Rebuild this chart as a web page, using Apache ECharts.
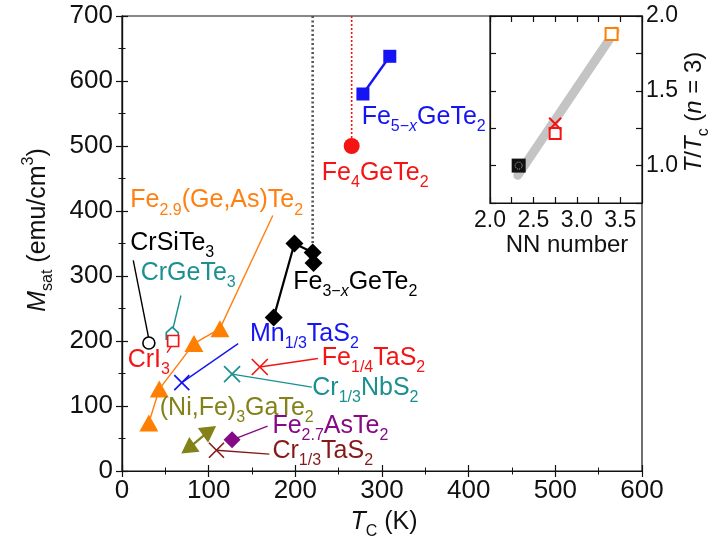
<!DOCTYPE html>
<html><head><meta charset="utf-8">
<script src="https://cdn.jsdelivr.net/npm/echarts@6/dist/echarts.min.js"></script>
<style>html,body{margin:0;padding:0;background:#fff}#c{width:710px;height:545px}</style>
</head><body><div id="c"></div>
<script>
// Curie temperature T_C (K) vs saturation magnetisation M_sat (emu/cm^3)
const fe5GeTe2 = [[278, 580], [309, 638]];
const fe4GeTe2 = [[265, 500]];
const fe3GeTe2 = [[175, 236], [199, 350], [220, 336], [221, 320]];
const fe29GeAsTe2 = [[31, 74], [43, 126], [83, 196], [113, 219]];
const crSiTe3 = [[31, 197]];
const crGeTe3 = [[58, 212]];
const crI3 = [[59, 200]];
const mnTaS2 = [[69, 136]];
const fe14TaS2 = [[159, 160]];
const crNbS2 = [[127, 149]];
const niFeGaTe2 = [[76, 34], [101, 62]];
const fe27AsTe2 = [[127, 48]];
const crTaS2 = [[109, 32]];

// vertical guides at the T_C of Fe3-xGeTe2 and Fe4GeTe2
const fe3Guide = [[220, 700], [220, 336]];
const fe4Guide = [[265, 700], [265, 500]];

// inset: nearest-neighbour number vs T/T_c (n = 3)
const nnBlack = [[2.33, 1.0]];
const nnRedSquare = [[2.75, 1.215]];
const nnRedCross = [[2.75, 1.28]];
const nnOrange = [[3.40, 1.88]];
const nnTrend = [[2.32, 0.935], [3.44, 1.9]];

// compound names (rich text) with label anchor and leader tip, in data units
const names = [
  {text: 'Fe{s|5−}{si|x}GeTe{s|2}', color: '#1414f5', at: [276, 544]},
  {text: 'Fe{s|4}GeTe{s|2}', color: '#f51414', at: [230, 458]},
  {text: 'Fe{s|3−}{si|x}GeTe{s|2}', color: '#000', at: [197, 290]},
  {text: 'Fe{s|2.9}(Ge,As)Te{s|2}', color: '#ff8010', at: [9, 416], lead: [[113, 219], [174, 393]]},
  {text: 'CrSiTe{s|3}', color: '#000', at: [9, 351], lead: [[13, 324], [31, 203]]},
  {text: 'CrGeTe{s|3}', color: '#1a9090', at: [21, 304], lead: [[68, 270], [59, 220]]},
  {text: 'CrI{s|3}', color: '#f51414', at: [6, 170], lead: [[52, 182], [57, 192]]},
  {text: 'Mn{s|1/3}TaS{s|2}', color: '#1414f5', at: [147, 211], lead: [[134, 196], [69, 136]]},
  {text: 'Fe{s|1/4}TaS{s|2}', color: '#f51414', at: [230, 173], lead: [[226, 173], [159, 160]]},
  {text: 'Cr{s|1/3}NbS{s|2}', color: '#1a9090', at: [219, 128], lead: [[219, 129], [127, 149]]},
  {text: '(Ni,Fe){s|3}GaTe{s|2}', color: '#828219', at: [43, 97]},
  {text: 'Fe{s|2.7}AsTe{s|2}', color: '#850a85', at: [173, 69], lead: [[168, 69], [127, 48]]},
  {text: 'Cr{s|1/3}TaS{s|2}', color: '#851818', at: [173, 31], lead: [[170, 26], [109, 32]]}
];

const FONT = '"Liberation Sans", Arial, Helvetica, sans-serif';
const rich = {
  s: {fontSize: 16, fontFamily: FONT, padding: [19, 0, 0, 0]},
  si: {fontSize: 16, fontFamily: FONT, fontStyle: 'italic', padding: [19, 0, 0, 0]},
  p: {fontSize: 16, fontFamily: FONT, padding: [0, 0, 19, 0]},
  i: {fontSize: 25, fontFamily: FONT, fontStyle: 'italic'},
  ii: {fontSize: 24, fontFamily: FONT, fontStyle: 'italic'}
};

const CROSS = 'path://M0,0L10,10M10,0L0,10';
const HOUSE = 'path://M5,0L10,4.5L10,10L0,10L0,4.5Z';

const chart = echarts.init(document.getElementById('c'), null, {renderer: 'canvas'});

const axisLine = {lineStyle: {color: '#111', width: 1.2}};
const tickIn = {inside: true, length: 6, lineStyle: {color: '#111', width: 1.2}};
const minorIn = {show: true, splitNumber: 2, length: 3.5, lineStyle: {color: '#111', width: 1}};
const mainLabel = {fontSize: 26, color: '#111', fontFamily: FONT};

function pts(arr) { return arr.map(v => v.slice()); }

function openMarker(name, data, symbol, size, color, bw) {
  return {
    type: 'scatter', name, data: pts(data), symbol, symbolSize: size,
    itemStyle: {color: '#fff', borderColor: color, borderWidth: bw, opacity: 1},
    z: 4
  };
}
function crossMarker(name, data, size, color, bw, xi, yi, z) {
  return {
    type: 'scatter', name, data: pts(data), symbol: CROSS, symbolSize: size,
    xAxisIndex: xi || 0, yAxisIndex: yi || 0,
    itemStyle: {color: 'rgba(0,0,0,0)', borderColor: color, borderWidth: bw, opacity: 1},
    z: z || 4
  };
}

const leaders = names.filter(n => n.lead).map(n => ({
  coords: n.lead, lineStyle: {color: n.color, width: 1.4, opacity: 1}
}));

const niFeRot = [125, -55];
const halfStep = v => (Math.abs(v * 2 - Math.round(v * 2)) < 1e-6 ? v.toFixed(1) : '');

const option = {
  animation: false,
  textStyle: {fontFamily: FONT},
  grid: [
    {left: 122, top: 16, width: 520, height: 455, show: true, borderColor: '#111', borderWidth: 1.2, backgroundColor: '#fff'},
    {left: 490, top: 16, width: 152, height: 187, show: true, borderColor: '#111', borderWidth: 1.2, backgroundColor: '#fff', z: 6}
  ],
  xAxis: [
    {gridIndex: 0, type: 'value', min: 0, max: 600, interval: 100, axisLine, axisTick: tickIn, minorTick: minorIn,
     splitLine: {show: false}, axisLabel: Object.assign({margin: 7}, mainLabel)},
    {gridIndex: 0, type: 'value', position: 'top', min: 0, max: 600, interval: 100, axisLine, axisTick: tickIn, minorTick: minorIn,
     splitLine: {show: false}, axisLabel: {show: false}},
    {gridIndex: 1, type: 'value', min: 2.0, max: 3.75, interval: 0.25, axisLine, axisTick: tickIn, z: 7,
     splitLine: {show: false},
     axisLabel: {fontSize: 23, color: '#111', margin: 6, fontFamily: FONT, showMaxLabel: false, formatter: halfStep}},
    {gridIndex: 1, type: 'value', position: 'top', min: 2.0, max: 3.75, interval: 0.25, axisLine, axisTick: tickIn, z: 7,
     splitLine: {show: false}, axisLabel: {show: false}}
  ],
  yAxis: [
    {gridIndex: 0, type: 'value', min: 0, max: 700, interval: 100, axisLine, axisTick: tickIn, minorTick: minorIn,
     splitLine: {show: false}, axisLabel: Object.assign({margin: 9}, mainLabel)},
    {gridIndex: 0, type: 'value', position: 'right', min: 0, max: 700, interval: 100, axisLine, axisTick: tickIn, minorTick: minorIn,
     splitLine: {show: false}, axisLabel: {show: false}},
    {gridIndex: 1, type: 'value', position: 'right', min: 0.75, max: 2.0, interval: 0.25, axisLine, axisTick: tickIn, z: 7,
     splitLine: {show: false},
     axisLabel: {fontSize: 23, color: '#111', margin: 4, fontFamily: FONT, formatter: halfStep}},
    {gridIndex: 1, type: 'value', position: 'left', min: 0.75, max: 2.0, interval: 0.25, axisLine, axisTick: tickIn, z: 7,
     splitLine: {show: false}, axisLabel: {show: false}}
  ],
  series: [
    // guides
    {type: 'line', data: pts(fe3Guide), symbol: 'none', lineStyle: {color: '#555', width: 2.6, type: [2, 2.5]}, z: 1},
    {type: 'line', data: pts(fe4Guide), symbol: 'none', lineStyle: {color: '#f51414', width: 1.6, type: [2, 2]}, z: 1},
    // leader lines to compound names
    {type: 'lines', coordinateSystem: 'cartesian2d', xAxisIndex: 0, yAxisIndex: 0, data: leaders, z: 2, silent: true,
     lineStyle: {opacity: 1}},
    // Fe-Ge-Te family
    {type: 'line', name: 'Fe5-xGeTe2', data: pts(fe5GeTe2), symbol: 'rect', symbolSize: 13,
     itemStyle: {color: '#1414f5'}, lineStyle: {color: '#1414f5', width: 2.4}, z: 4},
    {type: 'scatter', name: 'Fe4GeTe2', data: pts(fe4GeTe2), symbol: 'circle', symbolSize: 16,
     itemStyle: {color: '#f51414', opacity: 1}, z: 4},
    {type: 'line', name: 'Fe3-xGeTe2', data: pts(fe3GeTe2), symbol: 'diamond', symbolSize: [18, 18],
     itemStyle: {color: '#000'}, lineStyle: {color: '#000', width: 2.2}, z: 4},
    {type: 'line', name: 'Fe2.9(Ge,As)Te2', data: pts(fe29GeAsTe2), symbol: 'triangle', symbolSize: [19, 17],
     itemStyle: {color: '#ff8000'}, lineStyle: {color: '#ff8010', width: 1.5}, z: 4},
    // Cr and intercalated compounds
    openMarker('CrSiTe3', crSiTe3, 'circle', 12, '#000', 1.6),
    openMarker('CrGeTe3', crGeTe3, HOUSE, 12, '#1a9090', 1.7),
    openMarker('CrI3', crI3, 'rect', 11, '#f51414', 1.7),
    crossMarker('Mn1/3TaS2', mnTaS2, 15, '#1414f5', 1.7),
    crossMarker('Fe1/4TaS2', fe14TaS2, 16, '#f51414', 1.7),
    crossMarker('Cr1/3NbS2', crNbS2, 16, '#1a9090', 1.7),
    {type: 'line', name: '(Ni,Fe)3GaTe2', data: niFeGaTe2.map((v, k) => ({value: v.slice(), symbolRotate: niFeRot[k]})),
     symbol: 'triangle', symbolSize: [18, 16], itemStyle: {color: '#828219'}, lineStyle: {color: '#828219', width: 2.2}, z: 4},
    {type: 'scatter', name: 'Fe2.7AsTe2', data: pts(fe27AsTe2), symbol: 'diamond', symbolSize: [17, 17],
     itemStyle: {color: '#850a85', opacity: 1}, z: 4},
    crossMarker('Cr1/3TaS2', crTaS2, 15, '#851818', 1.6),
    // compound names
    {type: 'scatter', silent: true, symbol: 'circle', symbolSize: 1, itemStyle: {color: 'rgba(0,0,0,0)', opacity: 1}, z: 5,
     data: names.map(n => ({value: n.at.slice(), label: {formatter: n.text, color: n.color}})),
     label: {show: true, position: 'right', distance: 0, fontSize: 25, fontFamily: FONT, opacity: 1, rich}},
    // inset
    {type: 'line', xAxisIndex: 2, yAxisIndex: 2, data: pts(nnTrend), symbol: 'none',
     lineStyle: {color: '#c4c4c4', width: 9, cap: 'round'}, z: 8},
    {type: 'scatter', xAxisIndex: 2, yAxisIndex: 2, data: pts(nnBlack), symbol: 'rect', symbolSize: 14,
     itemStyle: {color: '#111', opacity: 1}, z: 9},
    {type: 'scatter', xAxisIndex: 2, yAxisIndex: 2, data: pts(nnBlack), symbol: 'circle', symbolSize: 7,
     itemStyle: {color: 'rgba(0,0,0,0)', borderColor: '#bbb', borderWidth: 1, borderType: [1, 1], opacity: 1}, z: 10},
    {type: 'scatter', xAxisIndex: 2, yAxisIndex: 2, data: pts(nnRedSquare), symbol: 'rect', symbolSize: 11,
     itemStyle: {color: '#fff', borderColor: '#f51414', borderWidth: 2, opacity: 1}, z: 9},
    crossMarker('inset-cross', nnRedCross, 12, '#f51414', 2, 2, 2, 9),
    {type: 'scatter', xAxisIndex: 2, yAxisIndex: 2, data: pts(nnOrange), symbol: 'rect', symbolSize: 12,
     itemStyle: {color: '#fff', borderColor: '#ff8000', borderWidth: 2, opacity: 1}, z: 9}
  ],
  graphic: [
    {type: 'text', x: 38, y: 230, rotation: Math.PI / 2, z: 20,
     style: {text: '{i|M}{s|sat} (emu/cm{p|3})', fontSize: 25, fontFamily: FONT, fill: '#111',
       align: 'center', verticalAlign: 'middle', rich}},
    {type: 'text', x: 384, y: 522, z: 20,
     style: {text: '{i|T}{s|C} (K)', fontSize: 25, fontFamily: FONT, fill: '#111',
       align: 'center', verticalAlign: 'middle', rich}},
    {type: 'text', x: 567, y: 245, z: 20,
     style: {text: 'NN number', fontSize: 24, fontFamily: FONT, fill: '#111', align: 'center', verticalAlign: 'middle'}},
    {type: 'text', x: 694, y: 112, rotation: Math.PI / 2, z: 20,
     style: {text: '{ii|T}/{ii|T}{s|c} ({ii|n} = 3)', fontSize: 24, fontFamily: FONT, fill: '#111',
       align: 'center', verticalAlign: 'middle', rich}}
  ]
};
chart.setOption(option);
</script>
</body></html>
